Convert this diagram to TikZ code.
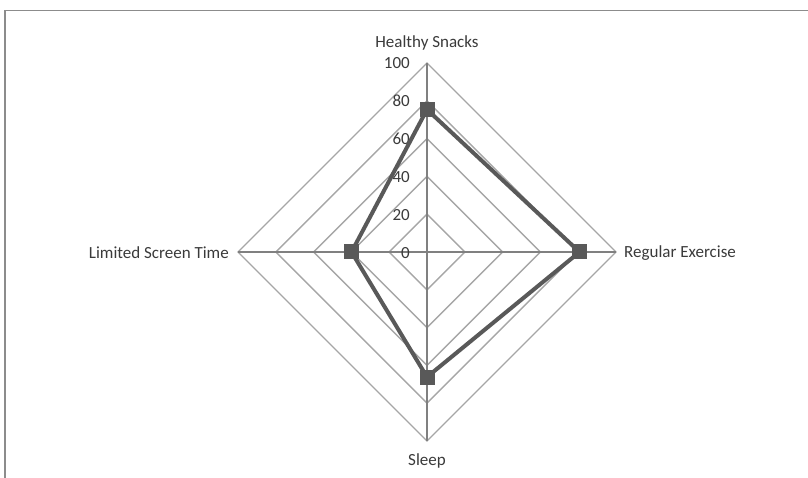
\documentclass[tikz,border=0pt]{standalone}
\usepackage{fontspec}
\setmainfont{Carlito}
\definecolor{gridc}{HTML}{A6A6A6}
\definecolor{spokec}{HTML}{808080}
\definecolor{datac}{HTML}{595959}
\definecolor{framec}{HTML}{8C8C8C}
\definecolor{textc}{HTML}{3A3A3A}
\begin{document}
\begin{tikzpicture}[x=1pt,y=-1pt,
  frame/.style={draw=framec, line width=1.3pt},
  gridline/.style={draw=gridc, line width=1.4pt},
  spoke/.style={draw=spokec, line width=1.3pt},
  dataline/.style={draw=datac, line width=4pt, line join=round},
  marker/.style={fill=datac, minimum size=15pt, inner sep=0pt, draw=none},
  axlabel/.style={font=\fontsize{17}{20}\selectfont, text=textc, inner sep=0pt},
  vallabel/.style={font=\fontsize{17}{20}\selectfont, text=textc, inner sep=0pt, anchor=east}]
\useasboundingbox (0,0) rectangle (808,478);
\draw[frame] (5,478) -- (5,10.5) -- (808,10.5);
\coordinate (O) at (427,252);
\foreach \r in {37.8,75.6,113.4,151.2,189} {
  \draw[gridline] (427,252-\r) -- (427+\r,252) -- (427,252+\r) -- (427-\r,252) -- cycle;
}
\coordinate (T) at (427,63);
\coordinate (R) at (616,252);
\coordinate (B) at (427,441);
\coordinate (L) at (238,252);
\draw[spoke] (O) -- (T);
\draw[spoke] (O) -- (R);
\draw[spoke] (O) -- (B);
\draw[spoke] (O) -- (L);
\node[axlabel] (hs) at (427,43) {Healthy Snacks};
\node[axlabel, anchor=east] (lst) at (229,253) {Limited Screen Time};
\node[axlabel, anchor=west] (re) at (624,253) {Regular Exercise};
\node[axlabel] (sl) at (427,461) {Sleep};
\node[vallabel] (v0) at (410,253) {0};
\node[vallabel] (v20) at (410,215) {20};
\node[vallabel] (v40) at (410,177) {40};
\node[vallabel] (v60) at (410,139) {60};
\node[vallabel] (v80) at (410,101) {80};
\node[vallabel] (v100) at (410,63) {100};
\coordinate (d1) at (427,109.5);
\coordinate (d2) at (579.5,252);
\coordinate (d3) at (427,377);
\coordinate (d4) at (351.5,252);
\draw[dataline] (d1) -- (d2) -- (d3) -- (d4) -- cycle;
\foreach \p in {d1,d2,d3,d4} \node[marker] (m\p) at (\p) {};
\end{tikzpicture}
\end{document}
